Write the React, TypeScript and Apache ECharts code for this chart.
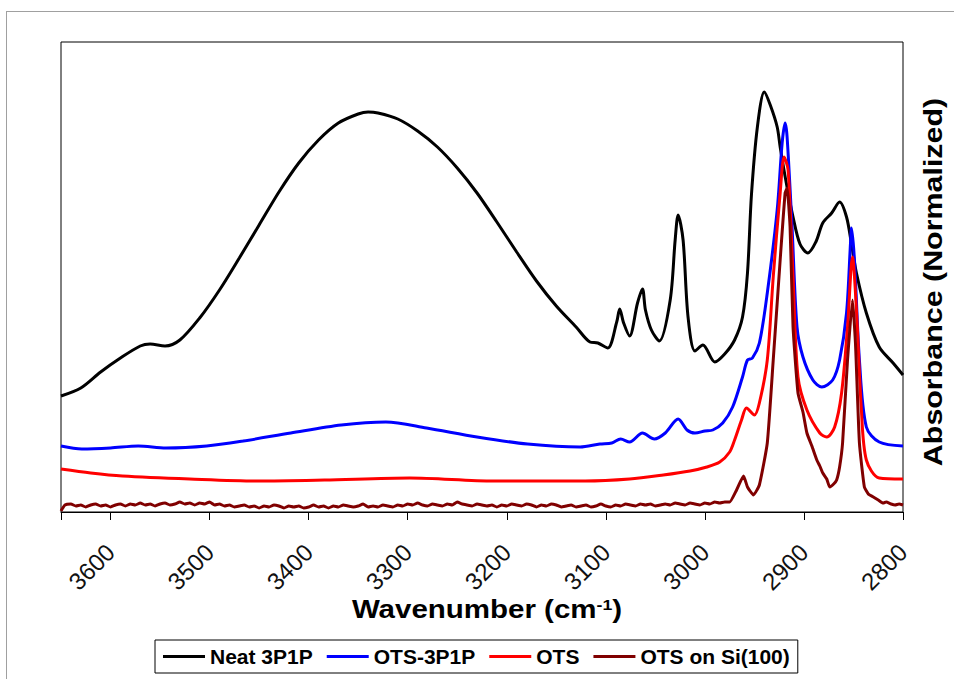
import React, { useEffect, useRef } from 'react';
import * as echarts from 'echarts';

const seriesNames = ['Neat 3P1P', 'OTS-3P1P', 'OTS', 'OTS on Si(100)'];
const seriesColors = ['#000000', '#0000ff', '#ff0000', '#800000'];

// [wavenumber (cm-1), absorbance (normalized, arbitrary units)]
const neat3P1P: [number, number][] = [
  [3650, 116], [3630, 124], [3610, 140], [3590, 154], [3570, 166], [3560, 168], [3545, 166], [3530, 172],
  [3510, 194], [3490, 222], [3470, 254], [3450, 287], [3430, 320], [3410, 349], [3390, 372], [3370, 389],
  [3350, 398], [3340, 400], [3330, 399], [3310, 393], [3290, 381], [3270, 365], [3250, 344], [3230, 319],
  [3210, 290], [3190, 260], [3170, 231], [3150, 206], [3130, 185], [3116, 170], [3108, 169], [3098, 164],
  [3089, 190], [3086, 203], [3082, 189], [3076, 176], [3068, 209], [3063, 223], [3060, 202], [3054, 182],
  [3046, 171], [3035, 212], [3030, 272], [3027, 297], [3022, 272], [3017, 195], [3010, 161], [3002, 167],
  [2990, 150], [2980, 158], [2970, 172], [2962, 195], [2957, 239], [2953, 317], [2947, 385], [2940, 420],
  [2934, 407], [2927, 385], [2924, 365], [2918, 330], [2911, 295], [2904, 268], [2896, 259], [2888, 270],
  [2881, 289], [2872, 299], [2864, 310], [2857, 295], [2852, 268], [2847, 239], [2837, 199], [2824, 165],
  [2810, 149], [2800, 137],
];

const ots3P1P: [number, number][] = [
  [3650, 66], [3629, 63], [3600, 64], [3572, 66], [3544, 64], [3503, 66], [3466, 71], [3418, 79],
  [3367, 87], [3322, 90], [3281, 84], [3230, 75], [3179, 68], [3126, 65], [3106, 68], [3094, 69],
  [3085, 73], [3076, 70], [3063, 79], [3051, 73], [3040, 79], [3027, 93], [3018, 82], [3010, 79],
  [3000, 81], [2992, 82], [2982, 89], [2972, 105], [2962, 135], [2957, 152], [2952, 154], [2945, 169],
  [2937, 219], [2927, 302], [2922, 369], [2919, 389], [2917, 375], [2912, 285], [2907, 185], [2901, 155],
  [2891, 132], [2882, 125], [2871, 132], [2864, 152], [2857, 199], [2853, 269], [2852, 284], [2849, 252],
  [2844, 152], [2837, 85], [2824, 70], [2800, 66],
];

const ots: [number, number][] = [
  [3650, 43], [3620, 39], [3588, 36], [3520, 33], [3451, 31], [3384, 32], [3298, 34], [3213, 31],
  [3121, 31], [3076, 33], [3042, 37], [3015, 41], [2998, 45], [2985, 50], [2975, 60], [2970, 72],
  [2963, 92], [2958, 104], [2950, 97], [2945, 109], [2937, 152], [2931, 235], [2924, 319], [2920, 355],
  [2916, 342], [2911, 235], [2906, 135], [2897, 102], [2884, 79], [2877, 75], [2869, 85], [2862, 119],
  [2856, 185], [2851, 255], [2847, 202], [2842, 102], [2837, 52], [2824, 34], [2800, 33],
];

const otsOnSi: [number, number][] = [
  [3650, 1], [3646, 7], [3640, 8], [3635, 6], [3630, 7], [3625, 5], [3620, 7], [3615, 8], [3610, 6],
  [3605, 7], [3600, 5], [3595, 7], [3590, 8], [3585, 6], [3580, 8], [3575, 7], [3570, 9], [3565, 7],
  [3560, 8], [3555, 6], [3550, 8], [3545, 9], [3540, 7], [3535, 8], [3530, 10], [3525, 8], [3520, 9],
  [3515, 7], [3510, 9], [3505, 8], [3500, 10], [3495, 7], [3490, 8], [3485, 6], [3480, 7], [3475, 5],
  [3470, 6], [3465, 7], [3460, 5], [3455, 6], [3450, 4], [3445, 6], [3440, 5], [3435, 7], [3430, 6],
  [3425, 4], [3420, 6], [3415, 5], [3410, 6], [3405, 4], [3400, 5], [3395, 7], [3390, 5], [3385, 6],
  [3380, 4], [3375, 6], [3370, 5], [3365, 7], [3360, 6], [3355, 5], [3350, 6], [3345, 8], [3340, 5],
  [3335, 6], [3330, 5], [3325, 7], [3320, 6], [3315, 5], [3310, 7], [3305, 6], [3300, 8], [3295, 7],
  [3290, 9], [3285, 7], [3280, 6], [3275, 8], [3270, 7], [3265, 6], [3260, 8], [3255, 7], [3250, 10],
  [3245, 8], [3240, 7], [3235, 6], [3230, 8], [3225, 7], [3220, 6], [3215, 7], [3210, 5], [3205, 7],
  [3200, 6], [3195, 8], [3190, 7], [3185, 6], [3180, 8], [3175, 7], [3170, 5], [3165, 7], [3160, 6],
  [3155, 8], [3150, 7], [3145, 5], [3140, 6], [3135, 7], [3130, 5], [3125, 6], [3120, 7], [3115, 5],
  [3110, 6], [3105, 8], [3100, 6], [3095, 5], [3090, 7], [3085, 6], [3080, 8], [3075, 7], [3070, 6],
  [3065, 8], [3060, 7], [3055, 8], [3050, 6], [3045, 7], [3040, 8], [3035, 7], [3030, 9], [3025, 8],
  [3020, 7], [3015, 9], [3010, 8], [3005, 7], [3000, 9], [2995, 8], [2990, 10], [2985, 9], [2980, 10],
  [2975, 10], [2968, 22], [2961, 36], [2957, 25], [2951, 17], [2945, 27], [2937, 69], [2931, 152],
  [2924, 252], [2919, 319], [2917, 324], [2914, 285], [2911, 185], [2906, 119], [2901, 100], [2897, 79],
  [2892, 66], [2887, 52], [2884, 46], [2881, 39], [2877, 33], [2874, 25], [2870, 28], [2867, 32],
  [2864, 45], [2861, 69], [2856, 152], [2851, 212], [2848, 169], [2844, 69], [2839, 25], [2835, 18],
  [2830, 15], [2825, 12], [2820, 9], [2817, 10], [2812, 8], [2808, 7], [2804, 8], [2800, 7],
];

const seriesData = [neat3P1P, ots3P1P, ots, otsOnSi];
const seriesSmooth = [0.3, 0.3, 0.3, 0.15];

const FONT = '"Liberation Sans", Arial, sans-serif';

export default function App() {
  const ref = useRef<HTMLDivElement>(null);
  useEffect(() => {
    const chart = echarts.init(ref.current!, null, { renderer: 'svg' });
    chart.setOption({
      animation: false,
      backgroundColor: '#ffffff',
      textStyle: { fontFamily: FONT },
      grid: {
        left: 61, top: 42, width: 842, height: 470,
        show: true, borderColor: '#000', borderWidth: 1, backgroundColor: 'transparent',
      },
      xAxis: {
        type: 'value', min: 2800, max: 3650, interval: 100, inverse: true,
        axisLine: { show: true, lineStyle: { color: '#000', width: 1 } },
        axisTick: { show: true, length: 8, lineStyle: { color: '#000', width: 1 } },
        splitLine: { show: false },
        axisLabel: {
          rotate: 45, margin: 36, fontSize: 24, color: '#111', fontFamily: FONT,
          formatter: (v: number) => (v % 100 === 0 ? String(v) : ''),
        },
      },
      yAxis: { type: 'value', min: 0, max: 470, show: false },
      legend: {
        left: 155, top: 640, orient: 'horizontal', icon: 'rect',
        itemWidth: 42, itemHeight: 3, itemGap: 14, padding: [6, 8],
        borderColor: '#000', borderWidth: 1,
        textStyle: { fontSize: 21, fontWeight: 'bold', color: '#000', fontFamily: FONT },
        data: seriesNames,
      },
      graphic: [
        { type: 'line', silent: true, shape: { x1: 6, y1: 11.5, x2: 954, y2: 11.5 }, style: { stroke: '#a0a0a0', lineWidth: 1 } },
        { type: 'line', silent: true, shape: { x1: 6.5, y1: 11, x2: 6.5, y2: 679 }, style: { stroke: '#a0a0a0', lineWidth: 1 } },
        {
          type: 'text', x: 487, y: 609, scaleX: 1.18,
          style: {
            text: 'Wavenumber (cm{sup|-1})',
            fontSize: 25, fontWeight: 'bold', fontFamily: FONT, fill: '#000',
            align: 'center', verticalAlign: 'middle',
            rich: { sup: { fontSize: 15, fontWeight: 'bold', fontFamily: FONT, fill: '#000', verticalAlign: 'top', lineHeight: 14 } },
          },
        },
        {
          type: 'text', x: 933, y: 282, rotation: Math.PI / 2, scaleX: 1.17,
          style: {
            text: 'Absorbance (Normalized)',
            fontSize: 26, fontWeight: 'bold', fontFamily: FONT, fill: '#000',
            align: 'center', verticalAlign: 'middle',
          },
        },
      ],
      series: seriesNames.map((name, i) => ({
        name, type: 'line', data: seriesData[i], smooth: seriesSmooth[i],
        symbol: 'none', showSymbol: false,
        lineStyle: { color: seriesColors[i], width: 3 },
        itemStyle: { color: seriesColors[i] },
      })),
    });
    return () => chart.dispose();
  }, []);
  return (
    <div
      ref={ref}
      style={{ position: 'fixed', left: 0, top: 0, width: 954, height: 679, background: '#fff' }}
    />
  );
}
